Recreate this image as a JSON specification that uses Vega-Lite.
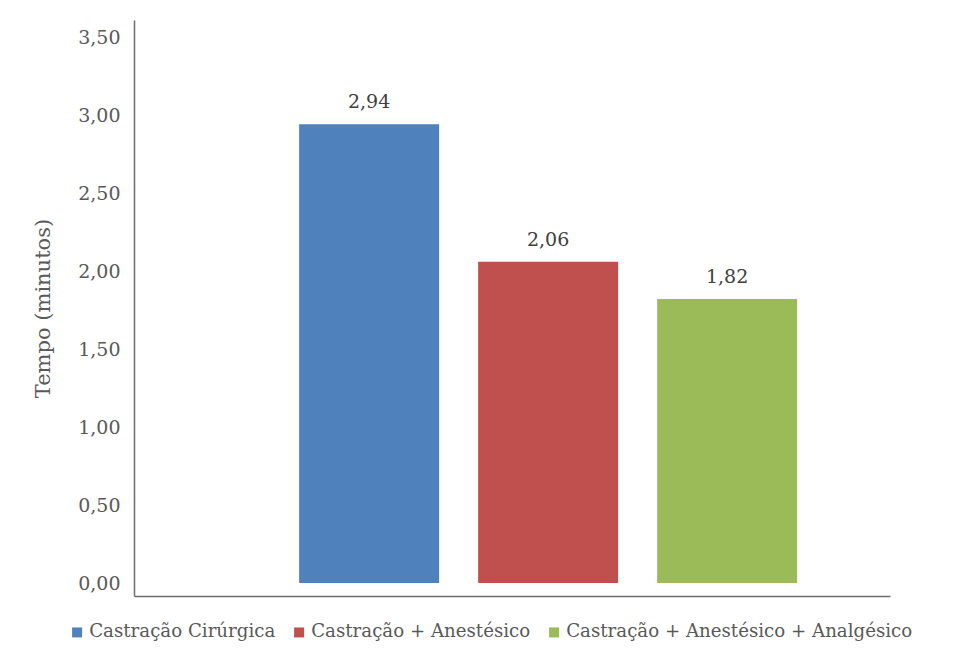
{
  "$schema": "https://vega.github.io/schema/vega-lite/v6.json",
  "width": 756,
  "height": 576,
  "autosize": {"type": "none"},
  "padding": {"left": 134, "top": 20, "right": 82, "bottom": 70},
  "background": "white",
  "config": {
    "locale": {"number": {"decimal": ",", "thousands": ".", "grouping": [3], "currency": ["R$ ", ""]}},
    "view": {"stroke": null},
    "font": "DejaVu Serif"
  },
  "data": {
    "values": [
      {"grupo": "Castração Cirúrgica", "tempo": 2.94},
      {"grupo": "Castração + Anestésico", "tempo": 2.06},
      {"grupo": "Castração + Anestésico + Analgésico", "tempo": 1.82}
    ]
  },
  "encoding": {
    "x": {
      "field": "grupo",
      "type": "nominal",
      "sort": null,
      "scale": {"paddingInner": 0.218, "paddingOuter": 0.7207, "align": 0.64},
      "axis": {"title": null, "labels": false, "ticks": false, "grid": false, "domain": true, "domainColor": "#6e6e6e", "domainWidth": 1.5}
    },
    "y": {
      "field": "tempo",
      "type": "quantitative",
      "scale": {"domain": [-0.0833, 3.609], "nice": false, "zero": false},
      "axis": {
        "title": "Tempo (minutos)",
        "titleFont": "DejaVu Serif",
        "titleFontSize": 21,
        "titleFontWeight": "normal",
        "titleColor": "#595959",
        "titlePadding": 24,
        "values": [0, 0.5, 1, 1.5, 2, 2.5, 3, 3.5],
        "format": ".2f",
        "labelFont": "DejaVu Serif",
        "labelFontSize": 19,
        "labelColor": "#595959",
        "labelPadding": 14,
        "ticks": false,
        "grid": false,
        "domain": true,
        "domainColor": "#6e6e6e",
        "domainWidth": 1.5
      }
    }
  },
  "layer": [
    {
      "mark": {"type": "bar"},
      "encoding": {
        "y2": {"datum": 0},
        "color": {
          "field": "grupo",
          "type": "nominal",
          "sort": null,
          "scale": {"range": ["#4F81BD", "#C0504D", "#9BBB59"]},
          "legend": {
            "title": null,
            "orient": "none",
            "direction": "horizontal",
            "legendX": -66,
            "legendY": 603,
            "symbolType": "square",
            "symbolSize": 100,
            "symbolStrokeWidth": 0,
            "labelFont": "DejaVu Serif",
            "labelFontSize": 18.2,
            "labelColor": "#595959",
            "labelOffset": 3,
            "columnPadding": 14,
            "labelLimit": 500
          }
        }
      }
    },
    {
      "mark": {"type": "text", "baseline": "alphabetic", "dy": -16, "font": "DejaVu Serif", "fontSize": 19, "color": "#404040"},
      "encoding": {
        "text": {"field": "tempo", "type": "quantitative", "format": ".2f"}
      }
    }
  ]
}
